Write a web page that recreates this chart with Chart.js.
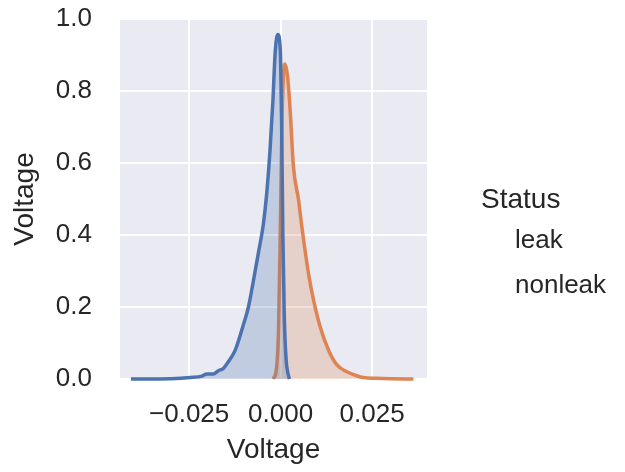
<!DOCTYPE html>
<html>
<head>
<meta charset="utf-8">
<script src="https://cdn.jsdelivr.net/npm/chart.js@4"></script>
<style>
  html, body { margin: 0; padding: 0; background: #fff; }
  #wrap { width: 625px; height: 472px; }
</style>
</head>
<body>
<div id="wrap"><canvas id="chart" width="625" height="472"></canvas></div>
<script>
// density curves (x = voltage, y = density)
const leakX = [-0.0409, -0.0300, -0.0247, -0.0215, -0.0202, -0.0184, -0.0170, -0.0156, -0.0143, -0.0124,
  -0.0102, -0.0088, -0.0074, -0.0061, -0.0047, -0.0038, -0.0029, -0.0021, -0.0015, -0.0008,
  -0.0001, 0.0003, 0.0006, 0.0010, 0.0015, 0.0020, 0.0024]
const leakY = [0, 0.001, 0.004, 0.008, 0.014, 0.014, 0.023, 0.030, 0.048, 0.080,
  0.150, 0.200, 0.275, 0.349, 0.432, 0.516, 0.636, 0.775, 0.905, 0.957,
  0.914, 0.682, 0.405, 0.173, 0.053, 0.016, 0]

const nonleakX = [-0.0020, -0.0012, -0.0006, -0.0001, 0.0003, 0.0008, 0.0012, 0.0019, 0.0026, 0.0035,
  0.0049, 0.0058, 0.0076, 0.0090, 0.0108, 0.0131, 0.0154, 0.0181, 0.0208, 0.0226,
  0.0263, 0.0300, 0.0363]
const nonleakY = [0, 0.025, 0.127, 0.405, 0.682, 0.849, 0.875, 0.840, 0.747, 0.590,
  0.497, 0.423, 0.294, 0.219, 0.145, 0.080, 0.039, 0.020, 0.009, 0.004,
  0.002, 0.001, 0]

const statusLabels = ['leak', 'nonleak']
const xTickStep = 0.025
const yTickStep = 0.2

const FONT = "'Liberation Sans', Arial, sans-serif"
const TEXT = '#262626'

const toPoints = (xs, ys) => xs.map((x, i) => ({ x: x, y: ys[i] }))

const plotBackground = {
  id: 'plotBackground',
  beforeDraw(chart) {
    const { ctx, chartArea: a } = chart
    ctx.save()
    ctx.fillStyle = '#eaeaf2'
    ctx.fillRect(a.left, a.top, a.right - a.left, a.bottom - a.top)
    ctx.restore()
  }
}

// seaborn legend here has text only, no handles
const textLegend = {
  id: 'textLegend',
  afterDraw(chart) {
    const ctx = chart.ctx
    ctx.save()
    ctx.fillStyle = TEXT
    ctx.textBaseline = 'alphabetic'
    ctx.textAlign = 'left'
    ctx.font = '28px ' + FONT
    ctx.fillText('Status', 481, 208)
    ctx.font = '26px ' + FONT
    ctx.fillText(statusLabels[0], 515, 248)
    ctx.fillText(statusLabels[1], 515, 293)
    ctx.restore()
  }
}

new Chart(document.getElementById('chart'), {
  type: 'line',
  data: {
    datasets: [
      {
        label: statusLabels[0],
        data: toPoints(leakX, leakY),
        borderColor: '#4c72b0',
        backgroundColor: 'rgba(76, 114, 176, 0.25)',
        fill: 'origin',
        borderWidth: 3.5,
        pointRadius: 0,
        cubicInterpolationMode: 'monotone',
        clip: 6
      },
      {
        label: statusLabels[1],
        data: toPoints(nonleakX, nonleakY),
        borderColor: '#dd8452',
        backgroundColor: 'rgba(221, 132, 82, 0.25)',
        fill: 'origin',
        borderWidth: 3.5,
        pointRadius: 0,
        cubicInterpolationMode: 'monotone',
        clip: 6
      }
    ]
  },
  options: {
    responsive: false,
    animation: false,
    layout: { padding: { left: 0, top: 19, right: 198, bottom: 0 } },
    plugins: {
      legend: { display: false },
      tooltip: { enabled: false }
    },
    scales: {
      x: {
        type: 'linear',
        min: -0.0439,
        max: 0.0400,
        afterFit: scale => {
          scale.height = 93
          scale.paddingLeft = 0
          scale.paddingRight = 0
        },
        border: { display: false },
        grid: { color: '#ffffff', lineWidth: 2, drawTicks: false },
        ticks: {
          stepSize: xTickStep,
          includeBounds: false,
          padding: 20,
          color: TEXT,
          font: { family: FONT, size: 26 },
          callback: v => v.toFixed(3).replace('-', '\u2212')
        },
        title: {
          display: true,
          text: 'Voltage',
          color: TEXT,
          font: { family: FONT, size: 28 },
          padding: { top: 0, bottom: 5 }
        }
      },
      y: {
        min: 0,
        max: 1,
        afterFit: scale => {
          scale.width = 120
          scale.paddingTop = 0
          scale.paddingBottom = 0
        },
        border: { display: false },
        grid: { color: '#ffffff', lineWidth: 2, drawTicks: false },
        ticks: {
          stepSize: yTickStep,
          padding: 28,
          color: TEXT,
          font: { family: FONT, size: 26 },
          callback: v => v.toFixed(1)
        },
        title: {
          display: true,
          text: 'Voltage',
          color: TEXT,
          font: { family: FONT, size: 28 },
          padding: { top: 8, bottom: 0 }
        }
      }
    }
  },
  plugins: [plotBackground, textLegend]
})
</script>
</body>
</html>
